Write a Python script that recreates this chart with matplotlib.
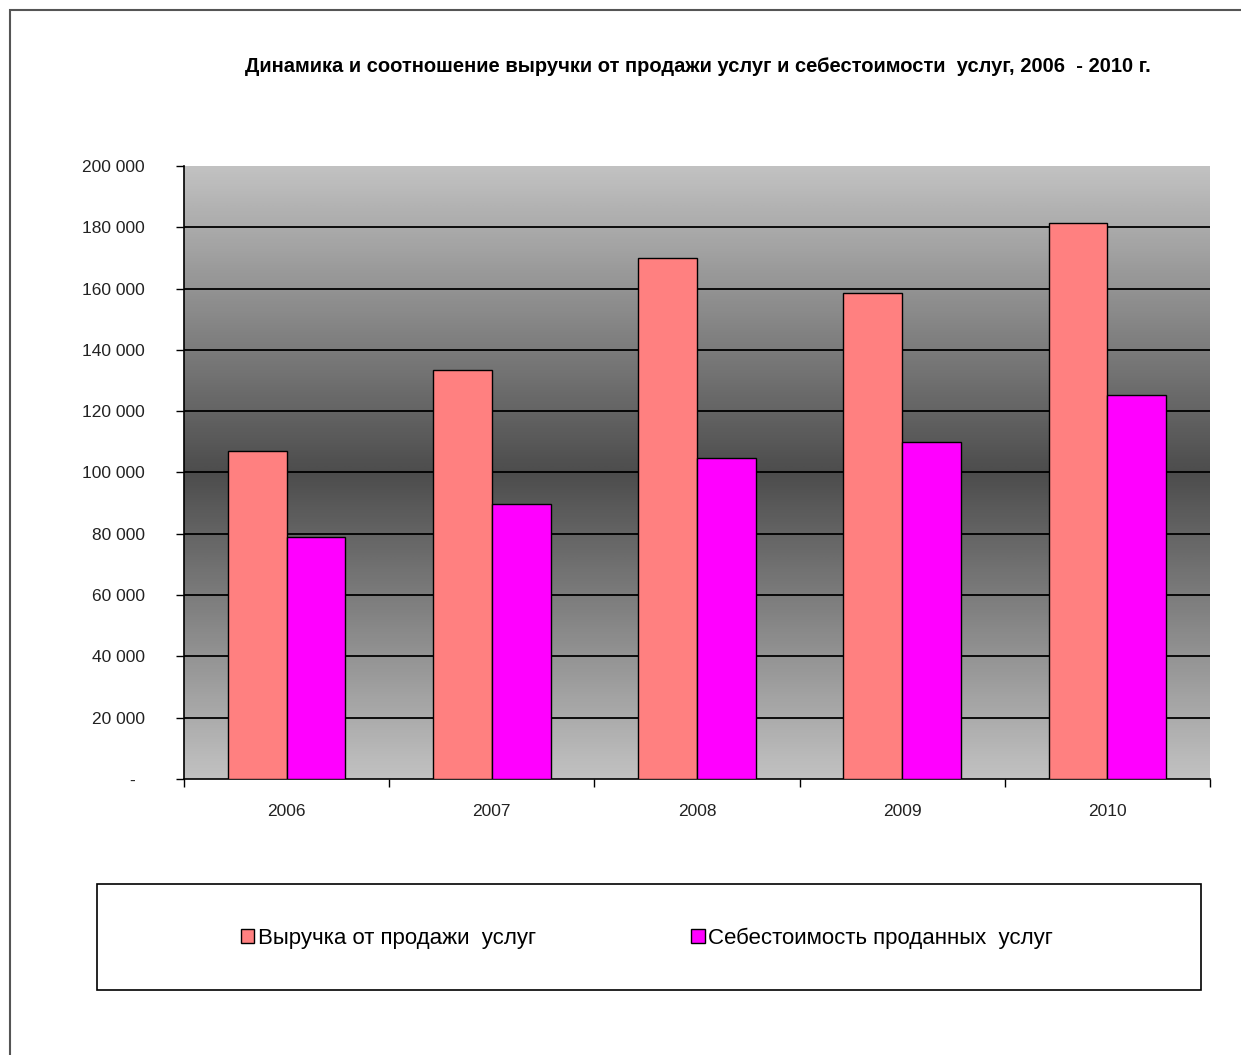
import numpy as np
from matplotlib import pyplot as plt
from matplotlib.patches import Rectangle
from matplotlib.ticker import FuncFormatter

plt.rcParams['font.family'] = ['Liberation Sans', 'DejaVu Sans']

years = ['2006', '2007', '2008', '2009', '2010']
revenue = [107000, 133300, 170000, 158500, 181500]
cost = [79000, 89700, 104700, 110000, 125300]

TITLE = 'Динамика и соотношение выручки от продажи услуг и себестоимости  услуг, 2006  - 2010 г.'
LABEL_REV = 'Выручка от продажи  услуг'
LABEL_COST = 'Себестоимость проданных  услуг'


def fmt_thousands(v, pos):
    if v == 0:
        return '-  '
    return '{:,.0f}'.format(v).replace(',', ' ')


def plot_chart():
    fig = plt.figure(figsize=(12.41, 10.55), dpi=100)
    W, H = 1241, 1055

    # outer chart border
    fig.add_artist(Rectangle((10 / W, -0.01), 1.02, 1 - 10 / H + 0.01, transform=fig.transFigure,
                             fill=False, edgecolor='#555555', linewidth=1.5))

    ax = fig.add_axes([184 / W, 1 - 779 / H, (1210 - 184) / W, (779 - 166) / H])

    # gray gradient background, light at top/bottom and dark in the middle
    t = np.linspace(0, 1, 256)
    shade = 0.76 - 0.46 * (1 - np.abs(2 * t - 1))
    grad = np.repeat(shade[:, None], 2, axis=1)
    ax.imshow(grad, cmap='gray', vmin=0, vmax=1, extent=[-0.5, len(years) - 0.5, 0, 200000],
              aspect='auto', zorder=0, interpolation='bicubic')

    x = np.arange(len(years))
    w = 0.287
    ax.bar(x - w / 2, revenue, w, color='#FF8080', edgecolor='black', linewidth=1, label=LABEL_REV, zorder=3)
    ax.bar(x + w / 2, cost, w, color='#FF00FF', edgecolor='black', linewidth=1, label=LABEL_COST, zorder=3)

    ax.set_xlim(-0.5, len(years) - 0.5)
    ax.set_ylim(0, 200000)
    ax.set_yticks(np.arange(0, 200001, 20000))
    ax.yaxis.set_major_formatter(FuncFormatter(fmt_thousands))
    for yv in np.arange(20000, 200000, 20000):
        ax.axhline(yv, color='black', linewidth=1.3, zorder=2)

    ax.set_xticks(x)
    ax.set_xticklabels(years)
    ax.set_xticks(np.arange(-0.5, len(years)), minor=True)
    ax.tick_params(axis='x', which='major', length=0, pad=18, labelsize=12.5, colors='#222222')
    ax.tick_params(axis='x', which='minor', length=6, width=1, direction='out', color='black')
    ax.tick_params(axis='y', length=6, width=1, direction='out', pad=22, labelsize=12.5, labelcolor='#222222')

    for side in ['top', 'right']:
        ax.spines[side].set_visible(False)
    ax.spines['left'].set_linewidth(1.2)
    ax.spines['bottom'].set_linewidth(1.2)

    fig.text(698 / W, 1 - 66 / H, TITLE, ha='center', va='center', fontsize=14.5, fontweight='bold')

    # legend box
    fig.add_artist(Rectangle((97 / W, 1 - 990 / H), (1201 - 97) / W, (990 - 884) / H,
                             transform=fig.transFigure, fill=False, edgecolor='black', linewidth=1.2))
    fig.legend(loc='center', bbox_to_anchor=(647 / W, 1 - 938 / H), ncol=2, frameon=False,
               fontsize=16, handlelength=0.6, handleheight=0.6, handletextpad=0.15, columnspacing=7.0)

    fig.savefig('out.png', dpi=100)


if __name__ == "__main__":
    plot_chart()
